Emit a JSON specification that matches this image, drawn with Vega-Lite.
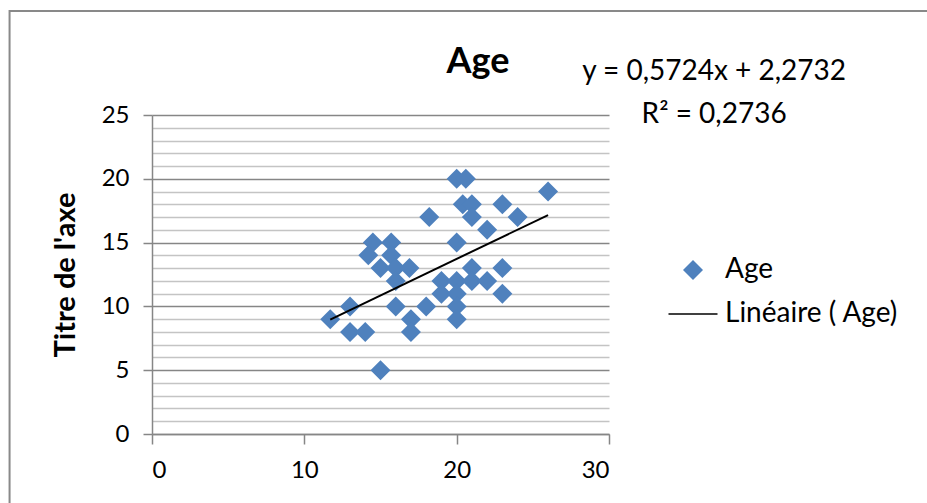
{
  "$schema": "https://vega.github.io/schema/vega-lite/v6.json",
  "width": 457,
  "height": 319,
  "autosize": {"type": "none"},
  "padding": {"left": 152, "top": 115, "right": 318, "bottom": 69},
  "background": "white",
  "config": {
    "font": "Lato",
    "view": {"stroke": null},
    "axisX": {
      "values": [0, 10, 20, 30],
      "tickCount": 40,
      "format": "d",
      "grid": false,
      "tickSize": 10,
      "tickColor": "#868686",
      "tickWidth": 1.5,
      "domainColor": "#868686",
      "domainWidth": 1.5,
      "labelFontSize": 24,
      "labelPadding": 14,
      "labelColor": "#000000",
      "labelFont": "Lato"
    },
    "axisY": {
      "tickCount": 40,
      "format": "d",
      "labelOverlap": false,
      "grid": true,
      "gridWidth": 1.5,
      "tickSize": 9,
      "tickWidth": 1.5,
      "domainColor": "#868686",
      "domainWidth": 1.5,
      "labelFontSize": 24,
      "labelPadding": 14,
      "labelColor": "#000000",
      "labelFont": "Lato",
      "titleFont": "Lato",
      "titleColor": "#000000",
      "titleFontSize": 29,
      "titleFontWeight": "bold",
      "titlePadding": 21
    }
  },
  "datasets": {
    "points": [
      {"x": 11.7, "y": 9, "series": "Age"},
      {"x": 13, "y": 10, "series": "Age"},
      {"x": 13, "y": 8, "series": "Age"},
      {"x": 14, "y": 8, "series": "Age"},
      {"x": 15, "y": 5, "series": "Age"},
      {"x": 14.5, "y": 15, "series": "Age"},
      {"x": 15.7, "y": 15, "series": "Age"},
      {"x": 14.2, "y": 14, "series": "Age"},
      {"x": 15.7, "y": 14, "series": "Age"},
      {"x": 15, "y": 13, "series": "Age"},
      {"x": 16, "y": 13, "series": "Age"},
      {"x": 16.9, "y": 13, "series": "Age"},
      {"x": 16, "y": 12, "series": "Age"},
      {"x": 16, "y": 10, "series": "Age"},
      {"x": 17, "y": 9, "series": "Age"},
      {"x": 17, "y": 8, "series": "Age"},
      {"x": 18, "y": 10, "series": "Age"},
      {"x": 18.2, "y": 17, "series": "Age"},
      {"x": 19, "y": 12, "series": "Age"},
      {"x": 19, "y": 11, "series": "Age"},
      {"x": 20, "y": 20, "series": "Age"},
      {"x": 20.6, "y": 20, "series": "Age"},
      {"x": 20.4, "y": 18, "series": "Age"},
      {"x": 21, "y": 18, "series": "Age"},
      {"x": 21, "y": 17, "series": "Age"},
      {"x": 23, "y": 18, "series": "Age"},
      {"x": 24, "y": 17, "series": "Age"},
      {"x": 22, "y": 16, "series": "Age"},
      {"x": 20, "y": 15, "series": "Age"},
      {"x": 21, "y": 13, "series": "Age"},
      {"x": 23, "y": 13, "series": "Age"},
      {"x": 20, "y": 12, "series": "Age"},
      {"x": 21, "y": 12, "series": "Age"},
      {"x": 22, "y": 12, "series": "Age"},
      {"x": 20, "y": 11, "series": "Age"},
      {"x": 23, "y": 11, "series": "Age"},
      {"x": 20, "y": 10, "series": "Age"},
      {"x": 20, "y": 9, "series": "Age"},
      {"x": 26, "y": 19, "series": "Age"}
    ],
    "trend": [
      {"x": 11.7, "y": 8.97},
      {"x": 26, "y": 17.16}
    ]
  },
  "layer": [
    {
      "data": {"name": "points"},
      "mark": {"type": "point", "filled": true, "size": 400, "opacity": 1},
      "encoding": {
        "x": {
          "field": "x", "type": "quantitative",
          "scale": {"domain": [0, 30], "nice": false, "zero": false},
          "axis": {"values": [0, 10, 20, 30], "title": null}
        },
        "y": {
          "field": "y", "type": "quantitative",
          "scale": {"domain": [0, 25], "nice": false, "zero": false},
          "axis": {
            "values": [0,1,2,3,4,5,6,7,8,9,10,11,12,13,14,15,16,17,18,19,20,21,22,23,24,25],
            "tickCount": 40,
            "format": "d",
            "gridColor": {"condition": {"test": "datum.value % 5 === 0", "value": "#868686"}, "value": "#c4c4c4"},
            "labelExpr": "datum.value % 5 === 0 ? datum.label : ''",
            "tickColor": {"condition": {"test": "datum.value % 5 === 0", "value": "#868686"}, "value": "transparent"},
            "title": "Titre de l'axe"
          }
        },
        "color": {
          "field": "series", "type": "nominal",
          "scale": {"domain": ["Age", "Linéaire ( Age)"], "range": ["#4f81bd", "#000000"]},
          "legend": {
            "title": null,
            "orient": "none",
            "legendX": 527,
            "legendY": 141,
            "padding": 0,
            "symbolSize": 400,
            "labelFontSize": 28,
            "labelFont": "Lato",
            "labelColor": "#000000",
            "labelLimit": 0,
            "labelOffset": 18,
            "rowPadding": 16
          }
        },
        "shape": {
          "field": "series", "type": "nominal",
          "scale": {"domain": ["Age", "Linéaire ( Age)"], "range": ["diamond", "M-2.45,-0.075H2.45V0.075H-2.45Z"]}
        }
      }
    },
    {
      "data": {"name": "trend"},
      "mark": {"type": "line", "color": "#000000", "strokeWidth": 2},
      "encoding": {
        "x": {"field": "x", "type": "quantitative"},
        "y": {"field": "y", "type": "quantitative"}
      }
    },
    {
      "data": {"values": [{}]},
      "mark": {"type": "rect", "fill": "transparent", "stroke": "#898989", "strokeWidth": 2},
      "encoding": {
        "x": {"datum": -9.35, "type": "quantitative"},
        "x2": {"datum": 52},
        "y": {"datum": 33.15, "type": "quantitative"},
        "y2": {"datum": -6.8}
      }
    },
    {
      "data": {"values": [{}]},
      "mark": {"type": "text", "fontSize": 28, "font": "Lato", "color": "#000000", "align": "center", "baseline": "alphabetic", "lineHeight": 43},
      "encoding": {
        "x": {"datum": 36.9, "type": "quantitative"},
        "y": {"datum": 27.74, "type": "quantitative"},
        "text": {"value": ["y = 0,5724x + 2,2732", "R² = 0,2736"]}
      }
    },
    {
      "data": {"values": [{}]},
      "mark": {"type": "text", "fontSize": 36, "fontWeight": "bold", "font": "Lato", "color": "#000000", "align": "center", "baseline": "alphabetic"},
      "encoding": {
        "x": {"datum": 21.4, "type": "quantitative"},
        "y": {"datum": 28.29, "type": "quantitative"},
        "text": {"value": "Age"}
      }
    }
  ]
}
